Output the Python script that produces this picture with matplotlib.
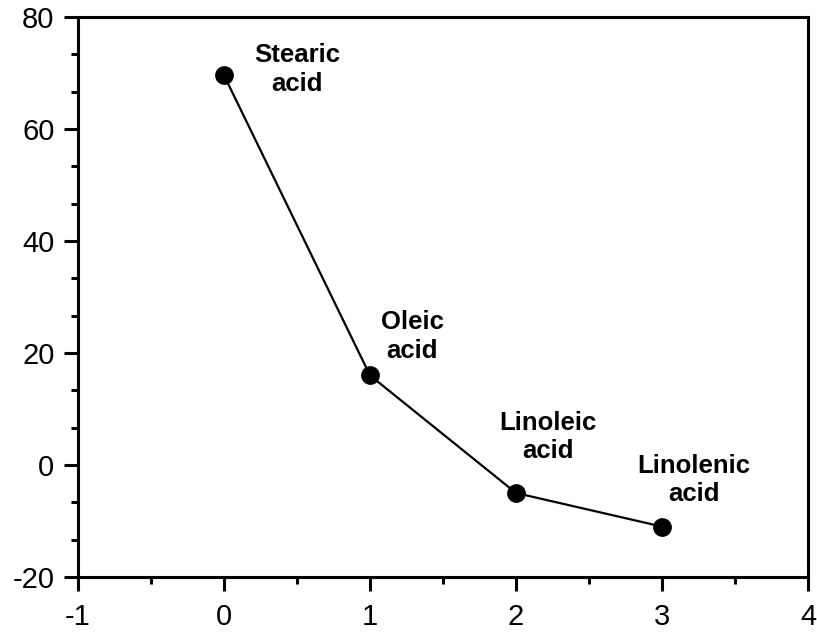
import numpy as np
import matplotlib.pyplot as plt
from matplotlib.ticker import MultipleLocator

plt.rcParams['font.family'] = ['Liberation Sans', 'DejaVu Sans']
plt.rcParams['axes.unicode_minus'] = False

dobles = [0, 1, 2, 3]
fusion = [69.6, 16.0, -5.0, -11.0]
nombres = ['Stearic\nacid', 'Oleic\nacid', 'Linoleic\nacid', 'Linolenic\nacid']
pos_x = [0.5, 1.29, 2.22, 3.22]
pos_y = [70.7, 23.0, 5.0, -2.7]

fig = plt.figure(figsize=(8.17, 6.33), dpi=100)
ax = fig.add_axes([0.0955, 0.0885, 0.8935, 0.8845])

ax.plot(dobles, fusion, color='black', linewidth=1.6, marker='o',
        markersize=12.5, markerfacecolor='black')

for nombre, x, y in zip(nombres, pos_x, pos_y):
    ax.text(x, y, nombre, ha='center', va='center', fontsize=18.5,
            fontweight='bold', linespacing=1.25)

ax.set_xlim(-1, 4)
ax.set_ylim(-20, 80)
ax.xaxis.set_major_locator(MultipleLocator(1))
ax.xaxis.set_minor_locator(MultipleLocator(0.5))
ax.yaxis.set_major_locator(MultipleLocator(20))
ax.yaxis.set_minor_locator(MultipleLocator(20 / 3))

ax.tick_params(which='major', direction='out', length=10, width=2.2,
               labelsize=21, pad=7)
ax.tick_params(axis='x', which='major', pad=9)
ax.tick_params(which='minor', direction='out', length=5, width=2.2)
for s in ax.spines.values():
    s.set_linewidth(2.2)

fig.savefig('out.png', dpi=100)
